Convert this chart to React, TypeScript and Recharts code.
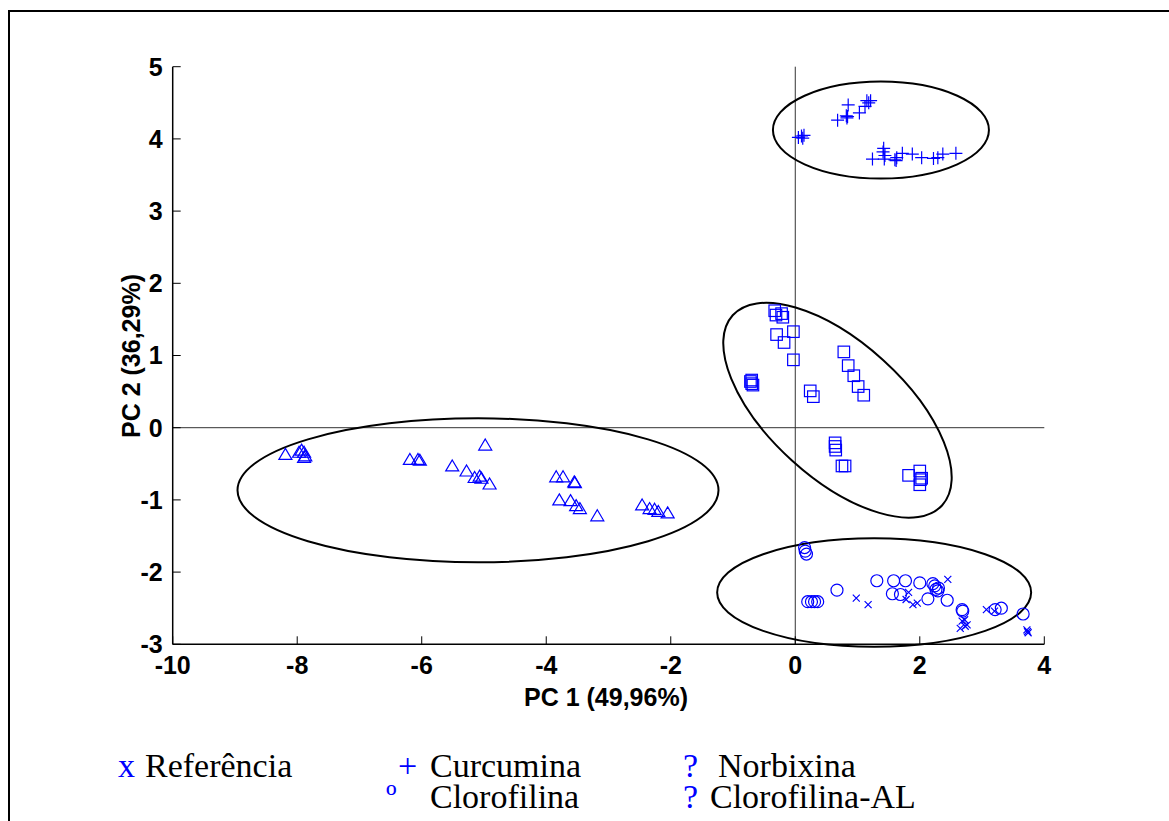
import { ScatterChart, Scatter, XAxis, YAxis, ReferenceLine, ReferenceDot } from 'recharts'

type Pt = [number, number]

// PC1 / PC2 scores per group
const referencia: Pt[] = [
  [2.45, -2.1], [1.82, -2.28], [0.98, -2.36], [1.17, -2.45], [1.78, -2.38], [1.89, -2.45],
  [1.96, -2.43], [3.07, -2.52], [3.2, -2.54], [2.65, -2.78], [2.73, -2.75], [2.76, -2.73],
  [2.72, -2.66], [2.68, -2.68], [3.73, -2.82], [3.74, -2.84], [3.72, -2.8],
]

const curcumina: Pt[] = [
  [0.05, 4.02], [0.1, 4.04], [0.12, 4.01], [0.14, 4.05], [0.68, 4.26], [0.82, 4.32],
  [0.84, 4.31], [0.83, 4.29], [0.85, 4.47], [1.03, 4.36], [1.12, 4.45], [1.15, 4.53],
  [1.18, 4.5], [1.21, 4.53], [1.24, 3.72], [1.42, 3.87], [1.41, 3.82], [1.43, 3.72],
  [1.44, 3.77], [1.6, 3.71], [1.63, 3.74], [1.62, 3.7], [1.72, 3.8], [1.88, 3.79],
  [2.03, 3.74], [2.22, 3.73], [2.29, 3.74], [2.37, 3.79], [2.58, 3.8],
]

const norbixina: Pt[] = [
  [-0.33, 1.62], [-0.31, 1.56], [-0.22, 1.58], [-0.2, 1.53], [-0.3, 1.29], [-0.03, 1.33],
  [-0.18, 1.18], [-0.03, 0.94], [-0.7, 0.66], [-0.7, 0.61], [-0.72, 0.64], [-0.68, 0.59],
  [0.24, 0.51], [0.29, 0.43], [0.78, 1.05], [0.85, 0.86], [0.94, 0.72], [1.01, 0.57],
  [1.1, 0.45], [0.64, -0.21], [0.64, -0.26], [0.65, -0.31], [0.75, -0.53], [0.8, -0.53],
  [1.82, -0.66], [2.0, -0.6], [2.03, -0.7], [2.0, -0.79], [2.01, -0.72],
]

const clorofilina: Pt[] = [
  [0.15, -1.66], [0.16, -1.71], [0.18, -1.75], [0.2, -2.41], [0.26, -2.41], [0.31, -2.41],
  [0.36, -2.41], [0.67, -2.25], [1.31, -2.12], [1.58, -2.12], [1.77, -2.12], [2.0, -2.15],
  [2.21, -2.16], [2.24, -2.19], [2.26, -2.24], [2.29, -2.26], [2.3, -2.22], [1.56, -2.3],
  [1.69, -2.31], [2.13, -2.37], [2.44, -2.39], [2.68, -2.52], [2.69, -2.54], [3.21, -2.52],
  [3.31, -2.5], [3.66, -2.58],
]

const clorofilinaAL: Pt[] = [
  [-8.19, -0.37], [-7.97, -0.34], [-7.93, -0.31], [-7.89, -0.34], [-7.87, -0.39], [-7.89, -0.41],
  [-6.19, -0.44], [-6.06, -0.44], [-6.03, -0.45], [-4.98, -0.24], [-5.51, -0.53], [-5.28, -0.6],
  [-5.15, -0.69], [-5.07, -0.67], [-5.04, -0.7], [-4.91, -0.78], [-3.84, -0.68], [-3.73, -0.68],
  [-3.55, -0.75], [-3.54, -0.76], [-3.79, -1.0], [-3.61, -1.01], [-3.52, -1.08], [-3.46, -1.12],
  [-3.18, -1.22], [-2.46, -1.07], [-2.34, -1.12], [-2.26, -1.13], [-2.2, -1.16], [-2.05, -1.18],
]

// group ellipses: center in data units
const ellipseCenters: Pt[] = [[1.376, 4.123], [0.678, 0.242], [-5.096, -0.867], [1.267, -2.283]]

const xTicks = [-10, -8, -6, -4, -2, 0, 2, 4]
const yTicks = [-3, -2, -1, 0, 1, 2, 3, 4, 5]

// ellipse look (pixels): rx, ry, rotation
const ellipseStyle = [
  { rx: 108, ry: 48.5, rot: 0 },
  { rx: 141.4, ry: 67.8, rot: 42.2 },
  { rx: 240.5, ry: 72, rot: 0 },
  { rx: 157, ry: 54.2, rot: 0 },
]

const BLUE = '#0000ff'
const SW = 1.2

const toData = (pts: Pt[]) => pts.map(([x, y]) => ({ x, y }))

const PlusShape = (p: any) => (
  <path d={`M${p.cx - 6.5},${p.cy}h13M${p.cx},${p.cy - 6.5}v13`} stroke={BLUE} strokeWidth={SW} fill="none" />
)
const XShape = (p: any) => (
  <path
    d={`M${p.cx - 3.5},${p.cy - 3.5}l7,7M${p.cx - 3.5},${p.cy + 3.5}l7,-7`}
    stroke={BLUE}
    strokeWidth={SW}
    fill="none"
  />
)
const CircleShape = (p: any) => <circle cx={p.cx} cy={p.cy} r={6} stroke={BLUE} strokeWidth={SW} fill="none" />
const SquareShape = (p: any) => (
  <rect x={p.cx - 5.75} y={p.cy - 5.75} width={11.5} height={11.5} stroke={BLUE} strokeWidth={SW} fill="none" />
)
const TriangleShape = (p: any) => (
  <path
    d={`M${p.cx},${p.cy - 6}L${p.cx + 6.5},${p.cy + 5}L${p.cx - 6.5},${p.cy + 5}Z`}
    stroke={BLUE}
    strokeWidth={SW}
    fill="none"
  />
)

const sans = 'Liberation Sans, Arial, sans-serif'
const serif = '"Liberation Serif", "Times New Roman", serif'
const tickStyle = { fill: '#000', fontSize: 25, fontWeight: 'bold', fontFamily: sans }
const axisLine = { stroke: '#000', strokeWidth: 1.5 }
const tickLine = { stroke: '#000', strokeWidth: 1 }

const legendItems = [
  { text: 'x', left: 118, row: 0, blue: true },
  { text: 'Referência', left: 145, row: 0 },
  { text: '+', left: 398, row: 0, blue: true },
  { text: 'Curcumina', left: 430, row: 0 },
  { text: '?', left: 683, row: 0, blue: true },
  { text: 'Norbixina', left: 718, row: 0 },
  { text: 'º', left: 386, row: 1, blue: true },
  { text: 'Clorofilina', left: 430, row: 1 },
  { text: '?', left: 683, row: 1, blue: true },
  { text: 'Clorofilina-AL', left: 710, row: 1 },
]

export default function App() {
  return (
    <div style={{ position: 'absolute', left: 0, top: 0, width: 1169, height: 821, overflow: 'hidden', background: '#fff' }}>
      <div
        style={{
          position: 'absolute',
          left: 8,
          top: 10,
          width: 1300,
          height: 1000,
          border: '2px solid #000',
          boxSizing: 'border-box',
        }}
      />
      <div style={{ position: 'absolute', left: 0, top: 0 }}>
        <ScatterChart width={1169} height={821} margin={{ top: 66.7, right: 124.7, bottom: 136.7, left: 112.7 }}>
          <XAxis
            dataKey="x"
            type="number"
            domain={[-10, 4]}
            ticks={xTicks}
            interval={0}
            allowDataOverflow
            height={40}
            tickSize={-8}
            tickMargin={20}
            tick={tickStyle}
            axisLine={axisLine}
            tickLine={tickLine}
          />
          <XAxis
            xAxisId="top"
            orientation="top"
            type="number"
            domain={[-10, 4]}
            ticks={xTicks}
            interval={0}
            height={0}
            tickSize={-8}
            tick={false}
            axisLine={axisLine}
            tickLine={tickLine}
          />
          <YAxis
            dataKey="y"
            type="number"
            domain={[-3, 5]}
            ticks={yTicks}
            interval={0}
            allowDataOverflow
            width={60}
            tickSize={-8}
            tickMargin={18}
            tick={tickStyle}
            axisLine={axisLine}
            tickLine={tickLine}
          />
          <YAxis
            yAxisId="right"
            orientation="right"
            type="number"
            domain={[-3, 5]}
            ticks={yTicks}
            interval={0}
            width={0}
            tickSize={-8}
            tick={false}
            axisLine={axisLine}
            tickLine={tickLine}
          />
          <ReferenceLine x={0} stroke="#333" strokeWidth={1} />
          <ReferenceLine y={0} stroke="#333" strokeWidth={1} />
          {ellipseCenters.map(([cx, cy], i) => (
            <ReferenceDot
              key={i}
              x={cx}
              y={cy}
              r={1}
              shape={(p: any) => (
                <ellipse
                  cx={p.cx}
                  cy={p.cy}
                  rx={ellipseStyle[i].rx}
                  ry={ellipseStyle[i].ry}
                  transform={`rotate(${ellipseStyle[i].rot} ${p.cx} ${p.cy})`}
                  stroke="#000"
                  strokeWidth={2}
                  fill="none"
                />
              )}
            />
          ))}
          <Scatter name="Referência" data={toData(referencia)} shape={XShape} isAnimationActive={false} />
          <Scatter name="Curcumina" data={toData(curcumina)} shape={PlusShape} isAnimationActive={false} />
          <Scatter name="Norbixina" data={toData(norbixina)} shape={SquareShape} isAnimationActive={false} />
          <Scatter name="Clorofilina" data={toData(clorofilina)} shape={CircleShape} isAnimationActive={false} />
          <Scatter name="Clorofilina-AL" data={toData(clorofilinaAL)} shape={TriangleShape} isAnimationActive={false} />
        </ScatterChart>
      </div>
      <div
        style={{
          position: 'absolute',
          left: 606,
          top: 697,
          transform: 'translate(-50%, -50%)',
          fontFamily: sans,
          fontWeight: 'bold',
          fontSize: 25,
          whiteSpace: 'nowrap',
        }}
      >
        PC 1 (49,96%)
      </div>
      <div
        style={{
          position: 'absolute',
          left: 131,
          top: 356,
          transform: 'translate(-50%, -50%) rotate(-90deg)',
          fontFamily: sans,
          fontWeight: 'bold',
          fontSize: 25,
          whiteSpace: 'nowrap',
        }}
      >
        PC 2 (36,29%)
      </div>
      {legendItems.map((it, i) => (
        <div
          key={i}
          style={{
            position: 'absolute',
            left: it.left,
            top: 750.5 + it.row * 31,
            height: 30,
            lineHeight: '30px',
            fontFamily: serif,
            fontSize: 34,
            whiteSpace: 'nowrap',
            color: it.blue ? BLUE : '#000',
          }}
        >
          {it.text}
        </div>
      ))}
    </div>
  )
}
